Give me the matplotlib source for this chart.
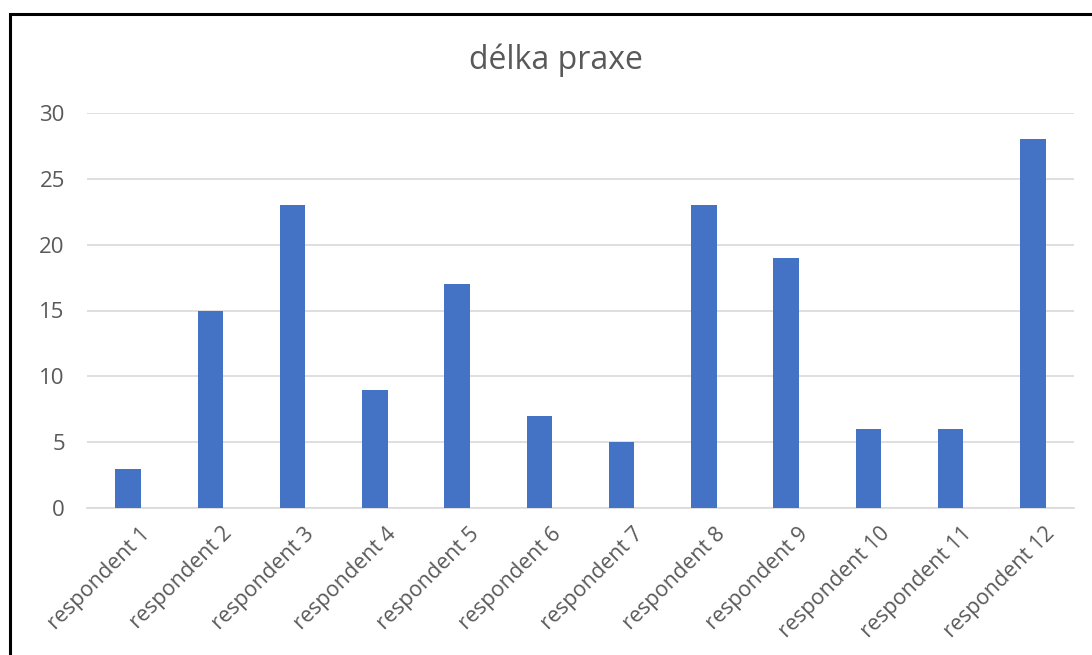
import matplotlib.pyplot as plt
import matplotlib.patches as mpatches
from matplotlib.transforms import ScaledTranslation

plt.rcParams['font.family'] = ['Open Sans', 'DejaVu Sans']

categories = ['respondent 1', 'respondent 2', 'respondent 3', 'respondent 4',
              'respondent 5', 'respondent 6', 'respondent 7', 'respondent 8',
              'respondent 9', 'respondent 10', 'respondent 11', 'respondent 12']
values = [3, 15, 23, 9, 17, 7, 5, 23, 19, 6, 6, 28]
yticks = [0, 5, 10, 15, 20, 25, 30]

W, H = 1092, 655
fig = plt.figure(figsize=(W / 100, H / 100), dpi=100)
ax = fig.add_axes([87 / W, 1 - 508 / H, (1074 - 87) / W, (508 - 113) / H])

x = range(len(categories))
ax.bar(x, values, width=0.31, color='#4472C4', zorder=3)

ax.set_xlim(-0.5, len(categories) - 0.5)
ax.set_ylim(0, 30)
ax.set_yticks(yticks)
ax.yaxis.grid(True, color='#d9d9d9', linewidth=1.2, zorder=0)
for s in ['top', 'right', 'left']:
    ax.spines[s].set_visible(False)
ax.spines['bottom'].set_color('#d9d9d9')
ax.spines['bottom'].set_linewidth(1.2)
ax.tick_params(axis='both', length=0, colors='#595959')
ax.tick_params(axis='y', pad=16, labelsize=16)
ax.tick_params(axis='x', pad=11, labelsize=15.5)

ax.set_xticks(list(x))
ax.set_xticklabels(categories, rotation=45, ha='right', rotation_mode='anchor')
off = ScaledTranslation(8 / 72, 0, fig.dpi_scale_trans)
for lbl in ax.get_xticklabels():
    lbl.set_transform(lbl.get_transform() + off)

fig.text(556 / W, 1 - 60 / H, 'délka praxe', ha='center', va='center',
         fontsize=23, color='#595959')

border = mpatches.Rectangle((10 / W, -0.05), 1.2, 1 - 14 / H + 0.05, transform=fig.transFigure,
                            fill=False, edgecolor='black', linewidth=2.2)
fig.patches.append(border)

fig.savefig('out.png', dpi=100)
